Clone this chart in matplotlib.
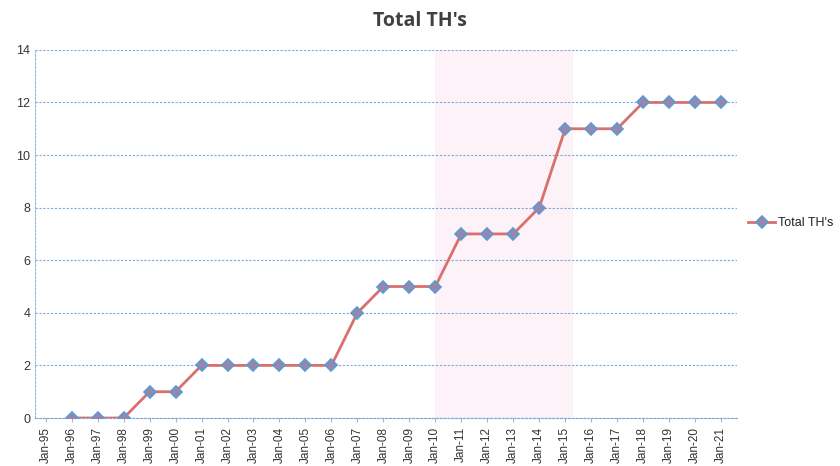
import matplotlib
matplotlib.use("Agg")
import matplotlib.pyplot as plt

# data
years = ["95", "96", "97", "98", "99", "00", "01", "02", "03", "04", "05", "06", "07",
         "08", "09", "10", "11", "12", "13", "14", "15", "16", "17", "18", "19", "20", "21"]
tick_labels = ["Jan-" + y for y in years]
total_th = [0, 0, 0, 1, 1, 2, 2, 2, 2, 2, 2, 4, 5, 5, 5, 7, 7, 7, 8, 11, 11, 11, 12, 12, 12, 12]
x_vals = list(range(1, len(total_th) + 1))

plt.rcParams["font.family"] = ["Liberation Sans", "DejaVu Sans"]

fig = plt.figure(figsize=(8.4, 4.66), dpi=100)
ax = fig.add_axes([0.042, 0.103, 0.835, 0.79])

# faint pink scan tint
ax.axvspan(15, 20.3, color="#fdf2f7", zorder=0, lw=0)

ax.plot(x_vals, total_th, color="#d9706d", lw=2, marker="D", markersize=6,
        markerfacecolor="#9a86a8", markeredgecolor="#5b9bd5", markeredgewidth=1.2,
        label="Total TH's", zorder=3)

ax.set_xlim(-0.4, 26.6)
ax.set_ylim(0, 14)
ax.set_yticks(range(0, 15, 2))
ax.set_xticks(range(len(tick_labels)))
ax.set_xticklabels(tick_labels, rotation=90, fontsize=8.5, color="#333333")
ax.tick_params(axis="y", labelsize=9, colors="#333333", length=0)
ax.tick_params(axis="x", length=3, color="#9bb7d9")

ax.grid(axis="y", color="#7fa7d6", ls=(0, (2, 1.5)), lw=0.8, zorder=1)
for s in ["top", "right"]:
    ax.spines[s].set_visible(False)
ax.spines["left"].set_color("#9bb7d9")
ax.spines["left"].set_linestyle((0, (2, 1.5)))
ax.spines["bottom"].set_color("#7fa7d6")
ax.spines["bottom"].set_linestyle((0, (2, 1.5)))

fig.text(0.5, 0.955, "Total TH's", ha="center", va="center", fontsize=14,
         fontweight="bold", color="#404040", family=["Open Sans", "DejaVu Sans"])

ax.legend(loc="center left", bbox_to_anchor=(1.0, 0.53), frameon=False,
          fontsize=9, handlelength=2.2, handletextpad=0.2, labelcolor="#222222")

fig.savefig("out.png", dpi=100)
